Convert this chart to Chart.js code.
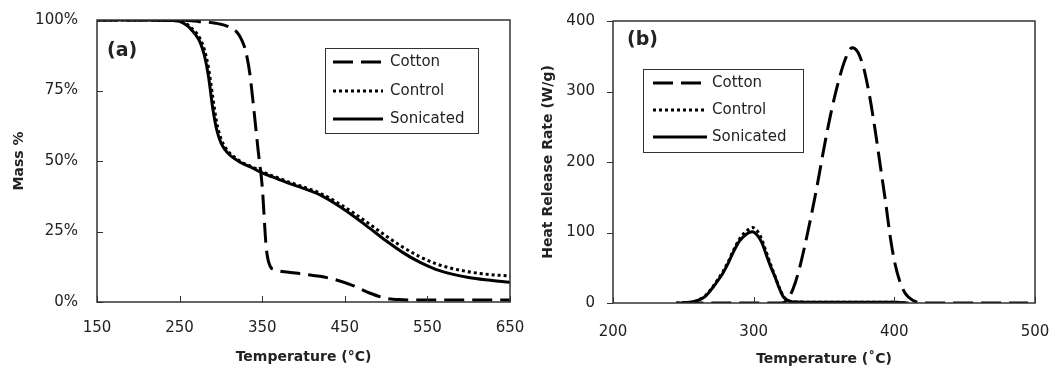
<!DOCTYPE html>
<html>
<head>
<meta charset="utf-8">
<script src="https://cdn.jsdelivr.net/npm/chart.js@4.4.1/dist/chart.umd.min.js"></script>
<style>
  html, body { margin: 0; padding: 0; background: #fff; }
  #wrap { position: relative; width: 1055px; height: 368px; }
  #chartA { position: absolute; left: 0; top: 0; }
  #chartB { position: absolute; left: 530px; top: 0; }
</style>
</head>
<body>
<div id="wrap">
  <canvas id="chartA" width="530" height="368"></canvas>
  <canvas id="chartB" width="525" height="368"></canvas>
</div>
<script>
// ─── (a) mass loss, temperature in °C ─────────────────────────
const tgaTemp = [150, 200, 240, 250, 260, 265, 270, 275, 280, 285,
                 290, 295, 300, 305, 310, 320, 325, 330, 335, 340,
                 345, 350, 355, 360, 365, 370, 380, 400, 420, 440,
                 460, 480, 500, 520, 540, 560, 580, 600, 620, 650]
const cottonMass = [100, 100, 100, 100, 99.8, 99.7, 99.6, 99.4, 99.3, 99.2,
                    99, 98.8, 98.5, 98.1, 97.5, 95.5, 93, 89, 81, 68,
                    54, 41, 19, 12.5, 11.5, 11, 10.6, 9.9, 9.1, 7.8,
                    5.8, 3.2, 1.3, 0.8, 0.7, 0.7, 0.7, 0.7, 0.7, 0.7]
const controlMass = [100, 100, 99.8, 99.6, 98.3, 97, 95.5, 93.2, 89.5, 83,
                     73, 63.5, 58, 55, 53, 50.6, 49.6, 48.9, 48.3, 47.6,
                     46.9, 46.2, 45.6, 45, 44.5, 43.9, 42.8, 40.8, 38.6, 35.4,
                     31.7, 27.6, 23.4, 19.5, 16.2, 13.6, 11.9, 10.7, 9.9, 9.2]
const sonicatedMass = [100, 100, 99.8, 99.5, 97.8, 96.3, 94.5, 92, 87.5, 80,
                       69, 61, 56.5, 54, 52.3, 50.2, 49.3, 48.6, 48, 47.3,
                       46.5, 45.8, 45.2, 44.6, 44.1, 43.5, 42.3, 40.3, 38, 34.6,
                       30.6, 26.2, 21.7, 17.6, 14.2, 11.6, 9.9, 8.7, 7.9, 7.0]
const massTicks = [0, 25, 50, 75, 100]

// ─── (b) heat release rate, W/g ───────────────────────────────
const cottonHrrTemp = [250, 300, 320, 324, 328, 332, 336, 340, 345, 350,
                       355, 360, 365, 370, 374, 378, 382, 386, 390, 394,
                       397, 400, 404, 408, 413, 420, 495]
const cottonHrr = [0, 0, 0, 5, 20, 45, 78, 115, 165, 220,
                   270, 312, 345, 362, 356, 335, 298, 250, 195, 140,
                   95, 60, 30, 13, 4, 0, 0]
const sampleHrrTemp = [245, 255, 262, 266, 271, 275, 278, 282, 285, 290,
                       295, 299, 303, 306, 309, 312, 315, 318, 321, 325,
                       330, 360, 400, 410]
const controlHrr = [0, 1, 5.5, 11, 23, 35, 44, 59, 72, 91,
                    102, 107, 101, 89, 72, 55, 39, 23, 10, 3,
                    1.5, 1, 1, 0]
const sonicatedHrr = [0, 1, 5, 10, 22, 33, 42, 57, 70, 88,
                      98, 101, 95, 85, 68, 52, 38, 22, 9, 3,
                      1.5, 1, 1, 0]

const seriesNames = ['Cotton', 'Control', 'Sonicated']

const FONT = "'DejaVu Sans', Verdana, sans-serif"
const INK  = '#222'

const pts = (xs, ys) => xs.map((x, i) => ({ x, y: ys[i] }))

function makeSets(data) {
  const styles = [
    { borderDash: [20, 8], order: 2 },
    { borderDash: [3, 3],  order: 1 },
    { borderDash: [],      order: 0 },
  ]
  return data.map((d, i) => ({
    label: seriesNames[i],
    data: d,
    borderColor: '#000',
    borderWidth: 3,
    borderDash: styles[i].borderDash,
    order: styles[i].order,
    pointRadius: 0,
    cubicInterpolationMode: 'monotone',
    fill: false,
  }))
}

// frame, tick marks, panel letter and legend box
const panelDecor = {
  id: 'panelDecor',
  afterDraw(chart, args, o) {
    const { ctx, chartArea: a, scales } = chart
    ctx.save()
    ctx.strokeStyle = '#333'
    ctx.lineWidth = 1
    ctx.setLineDash([])
    scales.x.ticks.forEach(t => {
      const x = Math.round(scales.x.getPixelForValue(t.value)) + 0.5
      ctx.beginPath(); ctx.moveTo(x, a.bottom); ctx.lineTo(x, a.bottom - 6); ctx.stroke()
    })
    scales.y.ticks.forEach(t => {
      const y = Math.round(scales.y.getPixelForValue(t.value)) + 0.5
      const d = o.yOut ? -6 : 6
      ctx.beginPath(); ctx.moveTo(a.left, y); ctx.lineTo(a.left + d, y); ctx.stroke()
    })
    ctx.lineWidth = 1.5
    ctx.strokeRect(a.left, a.top, a.width, a.height)

    ctx.fillStyle = INK
    ctx.font = `bold 19px ${FONT}`
    ctx.textBaseline = 'middle'
    ctx.fillText(o.label, a.left + o.labelX, a.top + o.labelY)

    const L = o.legend
    ctx.fillStyle = '#fff'
    ctx.fillRect(L.x, L.y, L.w, L.h)
    ctx.lineWidth = 1
    ctx.strokeRect(L.x + 0.5, L.y + 0.5, L.w, L.h)
    ctx.font = `15px ${FONT}`
    chart.data.datasets.forEach((ds, i) => {
      const y = L.y + L.rows[i]
      ctx.strokeStyle = '#000'
      ctx.lineWidth = ds.borderWidth
      ctx.setLineDash(ds.borderDash)
      ctx.beginPath(); ctx.moveTo(L.x + L.s0, y); ctx.lineTo(L.x + L.s1, y); ctx.stroke()
      ctx.setLineDash([])
      ctx.fillStyle = INK
      ctx.fillText(ds.label, L.x + L.tx, y)
    })
    ctx.restore()
  }
}

function axisX(min, max, title, pad, titlePad, h) {
  return {
    type: 'linear', min, max,
    ticks: { stepSize: 100, padding: pad, color: INK, font: { family: FONT, size: 15 } },
    grid: { display: false, drawTicks: false },
    border: { display: false },
    title: { display: true, text: title, color: INK, font: { family: FONT, size: 14, weight: 'bold' },
             padding: { top: 0, bottom: titlePad } },
    afterFit: s => { s.height = h; s.paddingLeft = 0; s.paddingRight = 0 },
  }
}

function axisY(min, max, step, title, pad, titlePad, w, fmt) {
  return {
    min, max,
    ticks: { stepSize: step, padding: pad, color: INK, font: { family: FONT, size: 15 }, callback: fmt },
    grid: { display: false, drawTicks: false },
    border: { display: false },
    title: { display: true, text: title, color: INK, font: { family: FONT, size: 14, weight: 'bold' },
             padding: { top: titlePad, bottom: 0 } },
    afterFit: s => { s.width = w; s.paddingTop = 0; s.paddingBottom = 0 },
  }
}

new Chart(document.getElementById('chartA'), {
  type: 'line',
  data: {
    datasets: makeSets([
      pts(tgaTemp, cottonMass),
      pts(tgaTemp, controlMass),
      pts(tgaTemp, sonicatedMass),
    ])
  },
  options: {
    responsive: false, animation: false,
    layout: { padding: { top: 20, right: 20, left: 0, bottom: 0 } },
    plugins: {
      legend: { display: false }, tooltip: { enabled: false },
      panelDecor: {
        label: '(a)', labelX: 10, labelY: 31, yOut: false,
        legend: { x: 325, y: 48, w: 153, h: 85, rows: [14, 43, 71], s0: 8, s1: 58, tx: 65 },
      },
    },
    scales: {
      x: axisX(150, 650, 'Temperature (°C)', 17, 2, 66),
      y: axisY(massTicks[0], massTicks[massTicks.length - 1], 25, 'Mass %', 19, 11, 97, v => v + '%'),
    }
  },
  plugins: [panelDecor]
})

new Chart(document.getElementById('chartB'), {
  type: 'line',
  data: {
    datasets: makeSets([
      pts(cottonHrrTemp, cottonHrr),
      pts(sampleHrrTemp, controlHrr),
      pts(sampleHrrTemp, sonicatedHrr),
    ])
  },
  options: {
    responsive: false, animation: false,
    layout: { padding: { top: 21, right: 20, left: 0, bottom: 0 } },
    plugins: {
      legend: { display: false }, tooltip: { enabled: false },
      panelDecor: {
        label: '(b)', labelX: 14, labelY: 19, yOut: true,
        legend: { x: 113, y: 69, w: 160, h: 83, rows: [14, 41, 68], s0: 10, s1: 64, tx: 69 },
      },
    },
    scales: {
      x: axisX(200, 500, 'Temperature (˚C)', 20, 0, 65),
      y: axisY(0, 400, 100, 'Heat Release Rate (W/g)', 18, 10, 83, v => v),
    }
  },
  plugins: [panelDecor]
})
</script>
</body>
</html>
